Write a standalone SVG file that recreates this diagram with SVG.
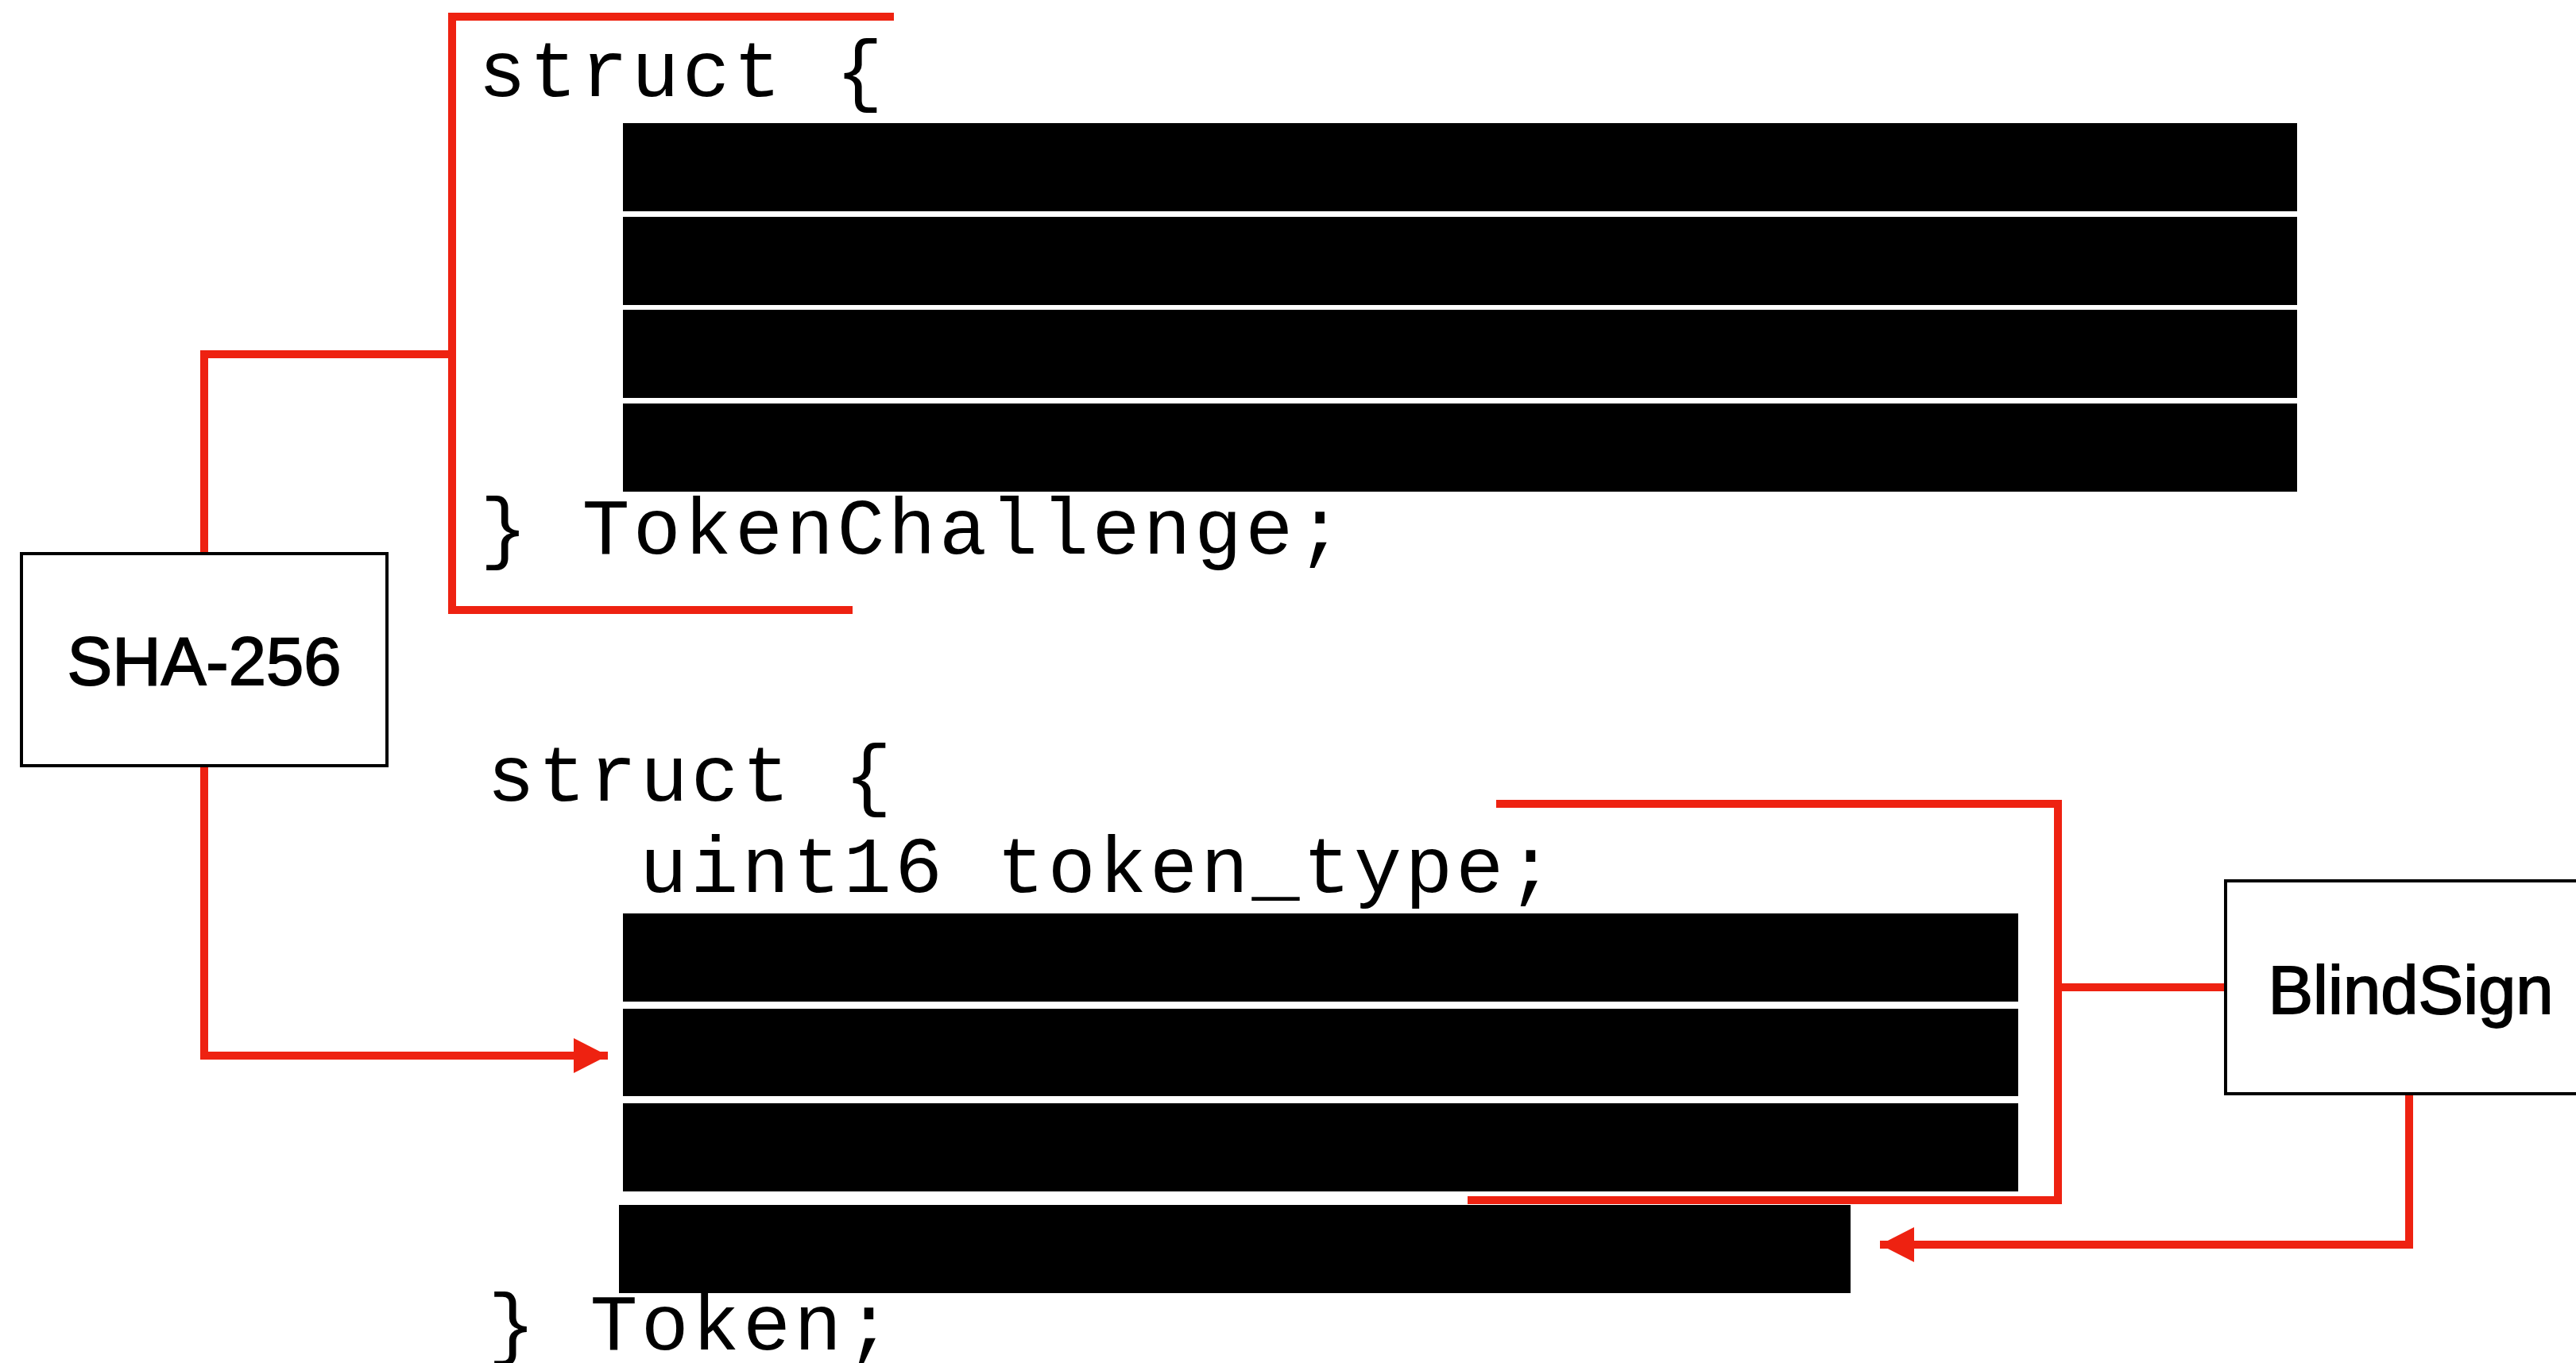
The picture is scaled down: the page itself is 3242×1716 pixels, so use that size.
<svg xmlns="http://www.w3.org/2000/svg" width="3242" height="1716" viewBox="0 0 3242 1716">
  <style>
    .code { font-family: "Liberation Mono", "Courier New", monospace; font-size: 100px; letter-spacing: 4.2px; fill: #000; }
    .label { font-family: "Liberation Sans", Arial, Helvetica, sans-serif; font-size: 85px; fill: #000; stroke: #000; stroke-width: 1.8; text-anchor: middle; }
    .bar { fill: #000; }
    .box { fill: #fff; stroke: #000; stroke-width: 4; }
    .conn { fill: none; stroke: #EE2211; stroke-width: 10; }
  </style>
  <defs>
    <marker id="arrow" markerUnits="userSpaceOnUse" viewBox="0 0 43 44" refX="43" refY="22" markerWidth="43" markerHeight="44" orient="auto">
      <path d="M0,0 L43,22 L0,44 Z" fill="#EE2211"/>
    </marker>
  </defs>
  <rect width="3242" height="1716" fill="#fff"/>

  <g id="token-challenge">
    <text class="code" x="602" y="121">struct {</text>
    <rect class="bar" x="784" y="155" width="2107" height="111"/>
    <rect class="bar" x="784" y="273" width="2107" height="111"/>
    <rect class="bar" x="784" y="390" width="2107" height="111"/>
    <rect class="bar" x="784" y="508" width="2107" height="111"/>
    <text class="code" x="604" y="697">} TokenChallenge;</text>
  </g>

  <g id="token">
    <text class="code" x="613" y="1008">struct {</text>
    <text class="code" x="805" y="1123">uint16 token_type;</text>
    <rect class="bar" x="784" y="1150" width="1756" height="111"/>
    <rect class="bar" x="784" y="1270" width="1756" height="110"/>
    <rect class="bar" x="784" y="1389" width="1756" height="111"/>
    <rect class="bar" x="779" y="1517" width="1550" height="111"/>
    <text class="code" x="614" y="1699">} Token;</text>
  </g>

  <g id="connectors">
    <path class="conn" d="M1125,21 H569 V768 H1073"/>
    <path class="conn" d="M569,446 H257 V697"/>
    <path class="conn" d="M257,964 V1329 H765" marker-end="url(#arrow)"/>
    <path class="conn" d="M1883,1012 H2590 V1511 H1847"/>
    <path class="conn" d="M2590,1243 H2801"/>
    <path class="conn" d="M3032,1377 V1567 H2366" marker-end="url(#arrow)"/>
  </g>

  <g id="sha256">
    <rect class="box" x="27" y="697" width="460" height="267"/>
    <text class="label" x="257" y="862">SHA-256</text>
  </g>

  <g id="blindsign">
    <rect class="box" x="2801" y="1109" width="462" height="268"/>
    <text class="label" x="3034" y="1276">BlindSign</text>
  </g>
</svg>
